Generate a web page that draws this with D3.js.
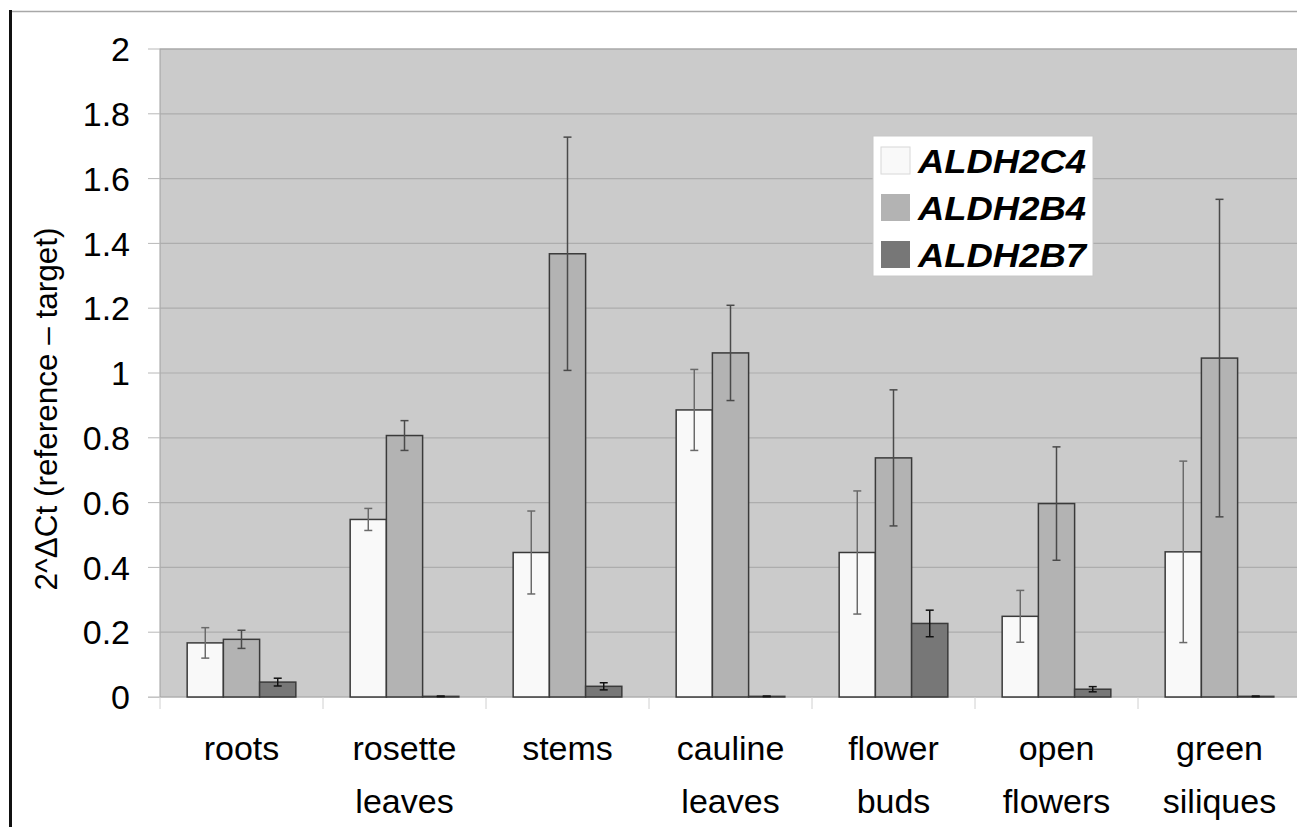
<!DOCTYPE html>
<html>
<head>
<meta charset="utf-8">
<script src="https://cdn.jsdelivr.net/npm/d3@7"></script>
<style>
  body { margin: 0; background: #fff; }
  svg { display: block; font-family: "Liberation Sans", Arial, sans-serif; }
</style>
</head>
<body>
<svg id="chart" width="1297" height="827"></svg>
<script>
// categories (tissues) and their two-line tick labels
const categories = ['roots', 'rosette leaves', 'stems', 'cauline leaves', 'flower buds', 'open flowers', 'green siliques'];
const tickLines = [['roots'], ['rosette', 'leaves'], ['stems'], ['cauline', 'leaves'], ['flower', 'buds'], ['open', 'flowers'], ['green', 'siliques']];
const seriesNames = ['ALDH2C4', 'ALDH2B4', 'ALDH2B7'];

// values
const c4 = [0.167, 0.548, 0.446, 0.886, 0.446, 0.249, 0.448];
const c4Err = [0.047, 0.034, 0.128, 0.125, 0.19, 0.08, 0.28];
const b4 = [0.178, 0.807, 1.368, 1.062, 0.738, 0.597, 1.046];
const b4Err = [0.028, 0.046, 0.36, 0.147, 0.21, 0.175, 0.49];
const b7 = [0.046, 0.002, 0.033, 0.002, 0.227, 0.024, 0.002];
const b7Err = [0.012, 0.001, 0.011, 0.001, 0.041, 0.008, 0.001];
const yTicks = [0, 0.2, 0.4, 0.6, 0.8, 1, 1.2, 1.4, 1.6, 1.8, 2];

const values = [c4, b4, b7];
const errors = [c4Err, b4Err, b7Err];
const fills = ['#f9f9f9', '#b3b3b3', '#777777'];
const errColors = ['#6a6a6a', '#4a4a4a', '#111'];

const svg = d3.select('#chart');
const plotLeft = 160, plotTop = 49, plotBottom = 697, catStep = 163;

const x = d3.scaleBand()
  .domain(categories)
  .range([plotLeft, plotLeft + catStep * categories.length])
  .padding(0);

const x1 = d3.scaleBand()
  .domain(seriesNames)
  .range([0, x.bandwidth()])
  .paddingInner(0)
  .paddingOuter(0.75);

const y = d3.scaleLinear().domain([0, 2]).range([plotBottom, plotTop]);

// outer frame bits
svg.append('line').attr('x1', 10).attr('x2', 1297).attr('y1', 11.5).attr('y2', 11.5)
  .attr('stroke', '#a8a8a8').attr('stroke-width', 1.5);
svg.append('line').attr('x1', 10.5).attr('x2', 10.5).attr('y1', 10).attr('y2', 827)
  .attr('stroke', '#111').attr('stroke-width', 3);

// plot background
svg.append('rect')
  .attr('x', plotLeft).attr('y', plotTop)
  .attr('width', x.range()[1] - plotLeft).attr('height', plotBottom - plotTop)
  .attr('fill', '#cbcbcb')
  .attr('stroke', '#a0a0a0').attr('stroke-width', 1);

// gridlines
svg.append('g')
  .selectAll('line')
  .data(yTicks.filter(d => d > 0))
  .join('line')
  .attr('x1', plotLeft).attr('x2', x.range()[1])
  .attr('y1', d => y(d)).attr('y2', d => y(d))
  .attr('stroke', '#adadad').attr('stroke-width', 1.2);

// y axis ticks and labels
const yAxis = svg.append('g');
yAxis.selectAll('line')
  .data(yTicks)
  .join('line')
  .attr('x1', 148).attr('x2', plotLeft)
  .attr('y1', d => y(d)).attr('y2', d => y(d))
  .attr('stroke', '#b8b8b8');
yAxis.selectAll('text')
  .data(yTicks)
  .join('text')
  .attr('x', 130)
  .attr('y', d => y(d))
  .attr('dy', '0.36em')
  .attr('text-anchor', 'end')
  .style('font-size', '34px')
  .style('fill', '#000')
  .text(d => d3.format('')(d));

// baseline and category ticks
svg.append('line')
  .attr('x1', 148).attr('x2', x.range()[1])
  .attr('y1', plotBottom + 0.5).attr('y2', plotBottom + 0.5)
  .attr('stroke', '#c4c4c4');
svg.append('g')
  .selectAll('line')
  .data(d3.range(categories.length + 1))
  .join('line')
  .attr('x1', i => plotLeft + i * x.step()).attr('x2', i => plotLeft + i * x.step())
  .attr('y1', plotBottom).attr('y2', plotBottom + 12)
  .attr('stroke', '#d0d0d0');

// bars
const groups = svg.append('g')
  .selectAll('g.cat')
  .data(categories)
  .join('g')
  .attr('class', 'cat')
  .attr('transform', d => `translate(${x(d)},0)`);

groups.each(function(cat, ci) {
  const g = d3.select(this);
  seriesNames.forEach((s, si) => {
    const v = values[si][ci];
    g.append('rect')
      .attr('x', x1(s))
      .attr('y', y(v))
      .attr('width', x1.bandwidth())
      .attr('height', plotBottom - y(v))
      .attr('fill', fills[si])
      .attr('stroke', '#3a3a3a')
      .attr('stroke-width', 1.5);
  });
  seriesNames.forEach((s, si) => {
    const v = values[si][ci];
    const e = errors[si][ci];
    const cx = x1(s) + x1.bandwidth() / 2;
    const eb = g.append('g').attr('stroke', errColors[si]).attr('stroke-width', 1.5);
    eb.append('line').attr('x1', cx).attr('x2', cx).attr('y1', y(v + e)).attr('y2', y(v - e));
    eb.append('line').attr('x1', cx - 4).attr('x2', cx + 4).attr('y1', y(v + e)).attr('y2', y(v + e));
    eb.append('line').attr('x1', cx - 4).attr('x2', cx + 4).attr('y1', y(v - e)).attr('y2', y(v - e));
  });
});

// category labels
svg.append('g')
  .selectAll('text')
  .data(categories)
  .join('text')
  .attr('x', d => x(d) + x.bandwidth() / 2)
  .attr('y', 760)
  .attr('text-anchor', 'middle')
  .style('font-size', '34px')
  .style('fill', '#000')
  .each(function(d, i) {
    const t = d3.select(this);
    tickLines[i].forEach((line, li) => {
      t.append('tspan')
        .attr('x', x(d) + x.bandwidth() / 2)
        .attr('dy', li === 0 ? 0 : 53)
        .text(line);
    });
  });

// y axis title
svg.append('text')
  .attr('transform', 'translate(46,409) rotate(-90)')
  .attr('text-anchor', 'middle')
  .attr('dy', '0.35em')
  .style('font-size', '31.5px')
  .style('fill', '#000')
  .text('2^\u0394Ct (reference \u2013 target)');

// legend
const legend = svg.append('g').attr('transform', 'translate(873,136)');
legend.append('rect')
  .attr('width', 220).attr('height', 140)
  .attr('fill', '#fff')
  .attr('stroke', '#c8c8c8');
legend.selectAll('g.legend-item')
  .data(seriesNames)
  .join('g')
  .attr('class', 'legend-item')
  .attr('transform', (d, i) => `translate(8,${11 + i * 47})`)
  .each(function(name, i) {
    const item = d3.select(this);
    item.append('rect')
      .attr('width', 29).attr('height', 27)
      .attr('fill', fills[i])
      .attr('stroke', i === 0 ? '#d8d8d8' : 'none');
    item.append('text')
      .attr('x', 37).attr('y', 26)
      .attr('textLength', 168)
      .attr('lengthAdjust', 'spacingAndGlyphs')
      .style('font-size', '34px')
      .style('font-weight', 'bold')
      .style('font-style', 'italic')
      .style('fill', '#000')
      .text(name);
  });
</script>
</body>
</html>
